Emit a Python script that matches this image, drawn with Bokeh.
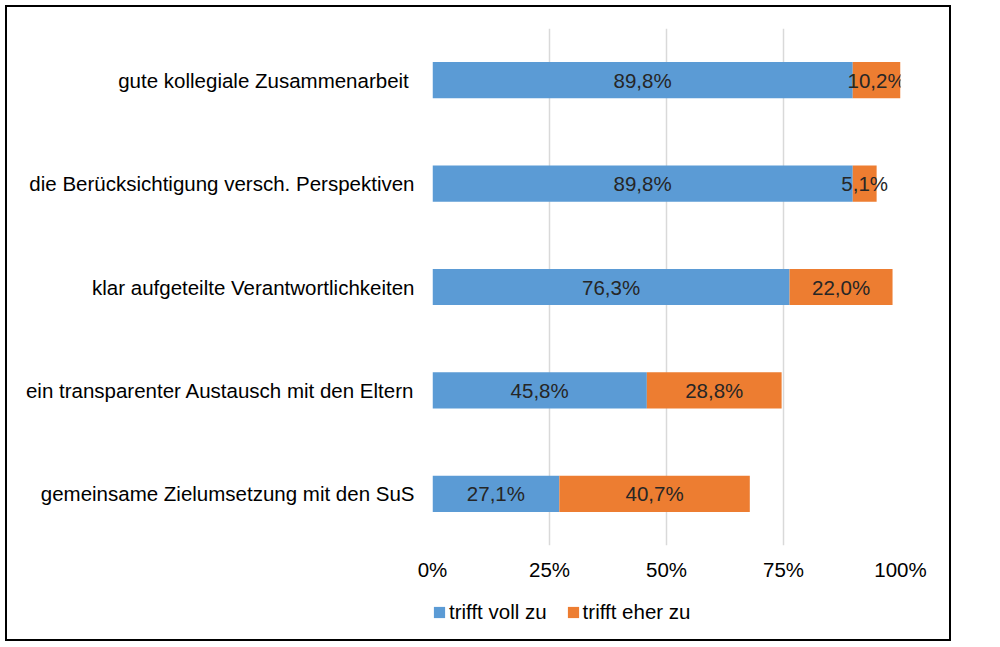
from bokeh.plotting import figure
from bokeh.models import ColumnDataSource, FactorRange, Range1d, FixedTicker, Legend
from bokeh.layouts import column
from bokeh.core.properties import value
from bokeh.embed import file_html
from bokeh.resources import INLINE

categories = [
    "gute  kollegiale Zusammenarbeit",
    "die Berücksichtigung versch. Perspektiven",
    "klar aufgeteilte Verantwortlichkeiten",
    "ein transparenter Austausch mit den Eltern",
    "gemeinsame Zielumsetzung mit den SuS",
]
trifft_voll_zu = [89.8, 89.8, 76.3, 45.8, 27.1]
trifft_eher_zu = [10.2, 5.1, 22.0, 28.8, 40.7]
series_names = ["trifft voll zu", "trifft eher zu"]
x_ticks = [0, 25, 50, 75, 100]
x_tick_labels = ["0%", "25%", "50%", "75%", "100%"]

BLUE = "#5B9BD5"
ORANGE = "#ED7D31"
FONT = "Liberation Sans"
FS = "20.5px"

def fmt(v):
    return f"{v:.1f}%".replace(".", ",")

source = ColumnDataSource(dict(
    cat=categories,
    voll=trifft_voll_zu,
    eher=trifft_eher_zu,
))

# ---- main chart ----
p = figure(
    width=942, height=590,
    y_range=FactorRange(*list(reversed(categories))),
    x_range=Range1d(0, 100),
    output_backend="svg", toolbar_location=None,
    min_border_left=425, min_border_right=49, min_border_top=21, min_border_bottom=52,
)
p.outline_line_color = None

renderers = p.hbar_stack(
    ["voll", "eher"], y="cat", height=0.35, color=[BLUE, ORANGE],
    line_color=None, source=source,
)

# data labels
lab_x, lab_y, lab_t = [], [], []
for c, a, b in zip(categories, trifft_voll_zu, trifft_eher_zu):
    lab_x += [a / 2, a + b / 2]
    lab_y += [c, c]
    lab_t += [fmt(a), fmt(b)]
lsrc = ColumnDataSource(dict(x=lab_x, y=lab_y, t=lab_t))
p.text(x="x", y="y", text="t", source=lsrc, text_align="center", text_baseline="middle",
       text_font=value(FONT), text_font_size=FS, text_color="#262626")

p.xaxis.ticker = FixedTicker(ticks=x_ticks)
p.xaxis.major_label_overrides = {t: l for t, l in zip(x_ticks, x_tick_labels)}
p.xaxis.axis_line_color = None
p.xaxis.major_tick_line_color = None
p.xaxis.minor_tick_line_color = None
p.xaxis.major_label_standoff = 6
p.xaxis.major_label_text_font = FONT
p.xaxis.major_label_text_font_size = FS
p.xaxis.major_label_text_color = "#000000"

p.yaxis.axis_line_color = None
p.yaxis.major_tick_line_color = None
p.yaxis.minor_tick_line_color = None
p.yaxis.major_label_standoff = 12
p.yaxis.major_label_overrides = {c: c.replace("  ", " \u00a0") for c in categories}
p.yaxis.major_label_text_font = FONT
p.yaxis.major_label_text_font_size = FS
p.yaxis.major_label_text_color = "#000000"

p.ygrid.grid_line_color = None
p.xgrid.grid_line_color = "#D9D9D9"
p.xgrid.grid_line_width = 1.5

# ---- legend strip (same series styles, zero-height bars so nothing is drawn) ----
pl = figure(
    width=942, height=42,
    y_range=FactorRange(*list(reversed(categories))),
    x_range=Range1d(0, 100),
    output_backend="svg", toolbar_location=None,
    x_axis_location=None, y_axis_location=None, min_border=0,
)
pl.outline_line_color = None
pl.grid.grid_line_color = None
leg_renderers = pl.hbar_stack(
    ["voll", "eher"], y="cat", height=0, color=[BLUE, ORANGE],
    line_color=None, source=source,
)
legend = Legend(
    items=[(series_names[0], [leg_renderers[0]]), (series_names[1], [leg_renderers[1]])],
    orientation="horizontal", location=(0, 15),
    margin=0, padding=5, spacing=19,
    glyph_width=14, glyph_height=14, label_standoff=3,
    label_text_font=FONT, label_text_font_size=FS, label_text_color="#000000",
    border_line_color=None, background_fill_alpha=0,
)
pl.add_layout(legend, "center")

page = column(p, pl, spacing=0,
              styles={"border": "2px solid black", "margin-left": "5px", "margin-top": "5px"})

open("out.html", "w").write(file_html(page, INLINE))
